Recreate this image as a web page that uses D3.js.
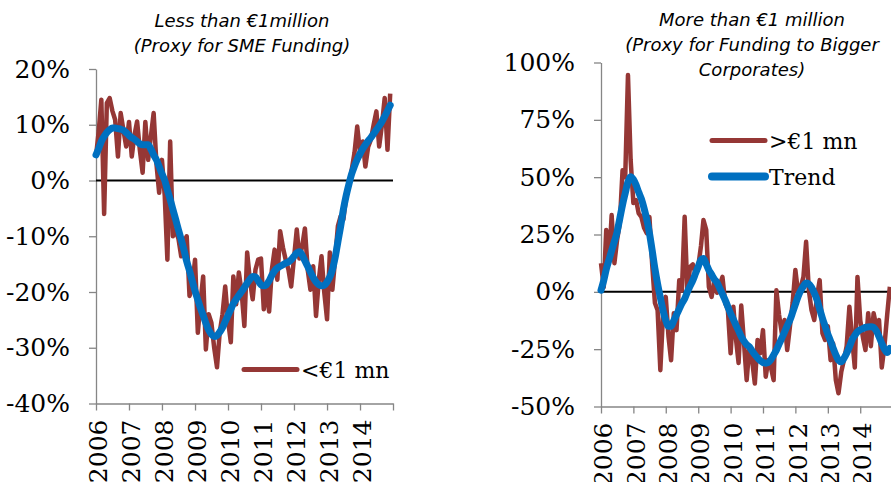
<!DOCTYPE html>
<html>
<head>
<meta charset="utf-8" />
<title>Lending growth</title>
<script src="https://d3js.org/d3.v7.min.js"></script>
<style>
  body { margin: 0; background: #fff; }
  .tick text { font-family: "DejaVu Serif", serif; font-size: 25px; fill: #000; }
  .ttl { font-family: "DejaVu Sans", sans-serif; font-style: italic; font-size: 18px; fill: #000; }
  .leg { font-family: "DejaVu Serif", serif; font-size: 22px; fill: #000; }
</style>
</head>
<body>
<svg width="891" height="482" id="svg1"></svg>
<script>
// monthly, Jan 2006 - Dec 2014 (y/y growth, %)
var smeRaw = [4.3, 9, 14.5, -6, 13.9, 14.8, 12.5, 10.9, 4.3, 12.1, 9, 6.1,
  10.5, 4.3, 8, 10.6, 5.5, 1.4, 10.5, 3.7, 8, 12.1, 3, -2.2,
  3.7, -2.8, -14.2, 7, -10, -9, -10.4, -13.6, -11, -10, -20.7, -19,
  -14.2, -27.3, -22, -17.2, -30.3, -24, -25.5, -30, -33.5, -27.3, -24, -19,
  -25, -29, -17.2, -22.2, -16.5, -20, -26.1, -12.9, -18, -21.3, -16, -14.2,
  -14, -23.1, -19, -23.5, -16, -12.4, -17.8, -9.1, -12, -14.2, -16, -19,
  -14, -8.8, -14, -11.8, -8.6, -16, -19.6, -15.4, -24.3, -18, -13.6, -20,
  -24.9, -12.9, -19.6, -14, -8.2, -6.4, -7, -2.8, -1, 1.9, 5, 9.7,
  5, 7, 2.5, 6, 7.3, 10, 12.4, 6.1, 10, 14.8, 5.5, 15.6];
var smeTrend = [4.6, 5.8, 7.0, 7.9, 8.6, 9.1, 9.4, 9.4, 9.3, 9.2, 9.0, 8.6,
  8.1, 7.7, 7.4, 7.0, 6.6, 6.4, 6.4, 6.4, 5.6, 4.6, 3.7, 2.5,
  1.2, 0, -1.7, -3.4, -5.2, -7, -8.8, -10.6, -12.5, -14.5, -16.2, -18,
  -19.8, -21.4, -22.8, -24.2, -25.6, -26.8, -27.6, -28.0, -27.8, -27.2, -26.4, -25.3,
  -24.2, -23.1, -22.1, -21.3, -20.6, -19.9, -19.2, -18.4, -17.7, -17.2, -17.3, -18.0,
  -18.7, -18.9, -18.7, -18.0, -17.0, -16.2, -15.7, -15.4, -15.1, -14.8, -14.6, -14.2,
  -13.6, -13.0, -12.8, -13.4, -14.4, -15.4, -16.4, -17.4, -18.2, -18.7, -18.9, -18.8,
  -18.2, -17.3, -16.0, -13.8, -11.0, -8.2, -5.2, -2.7, -0.6, 1.2, 2.6, 3.8,
  4.8, 5.7, 6.4, 7.1, 7.7, 8.4, 9.1, 9.8, 10.6, 11.5, 12.5, 13.5];
var corpRaw = [12.5, 2, 27, 13, 33.5, 12.5, 22.5, 30, 53, 50, 94.5, 57.5,
  38.7, 40, 34.3, 32.6, 28, 25.6, 32.6, 12, -4.9, -8, -34.2, -10,
  -2.2, -19.6, -29.8, -9.3, -16.7, 5.1, 0.6, 32.7, 0, 10.9, 12, 8,
  11, 20, 31.3, 27, 2.2, -2.2, 5, -0.4, 3, 6.5, -4.9, -7.8,
  -26.8, -6.5, -20, -31, -6, -22.4, -38.5, -23.7, -30, -40, -21, -26.8,
  -16.7, -37, -29.8, -33, -38.5, 0.7, -10, -18, -12.3, -25.4, -15, -4.9,
  9.5, -0.6, 2, 6.5, 21.8, 0.7, -8, -12.3, -2, 5.1, -18, -21,
  -15, -29.8, -22.4, -38.5, -44.2, -35, -29.8, -23.7, -6.5, -20, -33, 6.5,
  -12.3, -20, -25.4, -9.3, -23.7, -9.3, -15, -12.3, -33, -23.7, -10, 2.2];
var corpTrend = [0.7, 5, 9.8, 14, 18, 22, 26, 32, 38, 43, 48, 50.2,
  49, 46.5, 43.5, 40.5, 36.5, 31.5, 25.6, 18, 10, 3.5, -2.5, -8,
  -12.5, -15, -15, -12.5, -10, -7.5, -5, -3, 0, 2.5, 5, 8,
  11, 14, 14.5, 12, 9.5, 7.5, 5.5, 4, 1.5, -1, -3.6, -6.5,
  -9.5, -12, -14.5, -17, -19.5, -21.5, -23, -24, -25.8, -27.4, -28.8, -30,
  -30.8, -31.1, -30.8, -29.5, -27.5, -25.4, -22.8, -20.2, -17.5, -14.8, -12.3, -9,
  -5.5, -2, 0.5, 2.5, 3.8, 3.5, 2, -0.5, -3.5, -7.5, -11.5, -15,
  -18.5, -21.5, -24.5, -27.5, -29.8, -30.5, -29, -26.8, -24, -21, -19, -17.4,
  -16.5, -16, -15.5, -15.3, -15.2, -15.5, -17, -19.5, -22.5, -25, -26.5, -24.7];

var yearLabels = ["2006", "2007", "2008", "2009", "2010", "2011", "2012", "2013", "2014", ""];
var smeTicks = [-40, -30, -20, -10, 0, 10, 20];
var corpTicks = [-50, -25, 0, 25, 50, 75, 100];
var smeTitle = ["Less than €1million", "(Proxy for SME Funding)"];
var corpTitle = ["More than €1 million", "(Proxy for Funding to Bigger", "Corporates)"];

var months = d3.timeMonth.range(new Date(2006, 0, 1), new Date(2015, 0, 1));
var years = d3.timeYear.range(new Date(2006, 0, 1), new Date(2015, 0, 2));

var svg = d3.select("#svg1");
var RED = "#953735", BLUE = "#0070C0", GREY = "#868686";

function panel(p) {
  var x = d3.scaleTime().domain([years[0], years[9]]).range(p.xr);
  var y = d3.scaleLinear().domain(p.yd).range(p.yr);
  var g = svg.append("g");

  // title
  g.selectAll("text.ttl").data(p.title).enter().append("text")
    .attr("class", "ttl")
    .attr("x", p.tx).attr("y", function(d, i) { return p.ty + i * 25; })
    .attr("text-anchor", "middle")
    .text(function(d) { return d; });

  // y axis
  var ya = g.append("g").attr("transform", "translate(" + p.xr[0] + ",0)")
    .call(d3.axisLeft(y).tickValues(p.ticks).tickSize(7).tickSizeOuter(0).tickPadding(19)
      .tickFormat(function(d) { return d + "%"; }));
  ya.selectAll("line,path").attr("stroke", GREY).attr("stroke-width", 1.3);

  // x axis
  var xa = g.append("g").attr("transform", "translate(0," + p.yr[0] + ")")
    .call(d3.axisBottom(x).tickValues(years).tickSize(7).tickSizeOuter(0)
      .tickFormat(function(d, i) { return yearLabels[i]; }));
  xa.selectAll("line,path").attr("stroke", GREY).attr("stroke-width", 1.3);
  xa.selectAll("text")
    .attr("transform", "rotate(-90)")
    .attr("x", -16).attr("y", 2).attr("dy", "0.35em")
    .style("text-anchor", "end");

  // zero line
  g.append("line")
    .attr("x1", x(years[0])).attr("x2", x(years[9]))
    .attr("y1", y(0)).attr("y2", y(0))
    .attr("stroke", "#000").attr("stroke-width", 2);

  var line = d3.line()
    .x(function(d, i) { return x(months[i]); })
    .y(function(d) { return y(d); });

  g.append("path").attr("d", line(p.raw))
    .attr("fill", "none").attr("stroke", RED).attr("stroke-width", 4.5)
    .attr("stroke-linejoin", "round");
  g.append("path").attr("d", line.curve(d3.curveMonotoneX)(p.trend))
    .attr("fill", "none").attr("stroke", BLUE).attr("stroke-width", 7)
    .attr("stroke-linejoin", "round").attr("stroke-linecap", "round");

  // legend
  p.legend.forEach(function(l) {
    g.append("line").attr("x1", l.x).attr("x2", l.x + 53)
      .attr("y1", l.y).attr("y2", l.y)
      .attr("stroke", l.c).attr("stroke-width", l.w).attr("stroke-linecap", "round");
    g.append("text").attr("class", "leg")
      .attr("x", l.x + 57).attr("y", l.y + 8).text(l.t);
  });
}

panel({
  xr: [96, 393], yd: [-40, 20], yr: [403.5, 69], ticks: smeTicks,
  raw: smeRaw, trend: smeTrend, title: smeTitle, tx: 242, ty: 27,
  legend: [{ x: 244, y: 369.5, c: RED, w: 5, t: "<€1 mn" }]
});
panel({
  xr: [601, 892.6], yd: [-50, 100], yr: [406.5, 62.5], ticks: corpTicks,
  raw: corpRaw, trend: corpTrend, title: corpTitle, tx: 752, ty: 26,
  legend: [{ x: 712, y: 140.5, c: RED, w: 5, t: ">€1 mn" },
           { x: 712, y: 176.5, c: BLUE, w: 8, t: "Trend" }]
});
</script>
</body>
</html>
